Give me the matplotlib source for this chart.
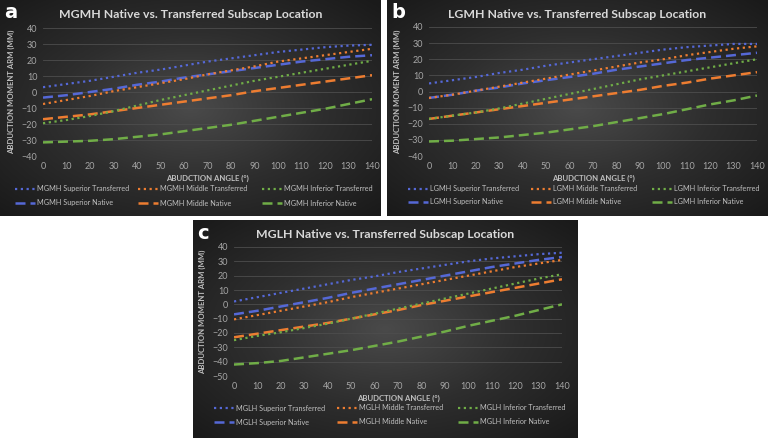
import numpy as np
import matplotlib
matplotlib.use("Agg")
from matplotlib import pyplot as plt

plt.rcParams['font.family'] = ['Lato', 'DejaVu Sans']

# Abduction moment arm vs abduction angle, three heads

angle = list(range(0, 150, 10))

# panel a: MGMH
a_sup_tr = [3, 5, 7, 9.5, 12, 14, 16.5, 19, 21, 23, 25, 26.5, 28, 29, 29.5]
a_mid_tr = [-7.5, -5, -2.5, 0.5, 3, 5.5, 8, 11, 13.5, 16, 19, 21, 23, 25, 27]
a_inf_tr = [-19.5, -17.5, -15, -12, -8.5, -5, -2, 1, 4, 7, 9.5, 12, 14.5, 17, 19.5]
a_sup_na = [-3.5, -2, 0, 2, 4.5, 6.5, 9, 11, 13, 15, 17, 19, 20.5, 22, 23]
a_mid_na = [-17, -15.5, -14, -12, -10, -8, -6, -4, -2, 0.5, 2.5, 4.5, 6.5, 8.5, 10.5]
a_inf_na = [-31.5, -31, -30.5, -29.5, -28, -26.5, -24.5, -22.5, -20.5, -18, -15.5, -13, -10.5, -7.5, -4.5]

# panel b: LGMH
b_sup_tr = [5, 7, 9, 11.5, 13.5, 16, 18, 20, 22, 24, 26, 27.5, 28.5, 29.5, 29.5]
b_mid_tr = [-4, -2, 0.5, 3, 5.5, 8, 10.5, 13, 15.5, 18, 20, 22.5, 24.5, 26.5, 28]
b_inf_tr = [-17, -15, -13, -10.5, -7.5, -4.5, -1.5, 1.5, 4.5, 7.5, 10, 12.5, 15, 17.5, 20]
b_sup_na = [-4, -2, 0.5, 2.5, 5, 7, 9, 11, 13.5, 15.5, 17.5, 19.5, 21, 22.5, 24]
b_mid_na = [-17, -15, -13, -11, -9, -7, -5, -3, -1, 1, 3.5, 5.5, 8, 10, 12]
b_inf_na = [-31, -30.5, -29.5, -28.5, -27, -25.5, -23.5, -21.5, -19, -16.5, -14, -11, -8, -5.5, -2.5]

# panel c: MGLH
c_sup_tr = [2, 5, 8, 11, 14, 17, 19.5, 22.5, 25, 27.5, 30, 32, 33.5, 35, 36]
c_mid_tr = [-10.5, -7.5, -4.5, -1.5, 1.5, 5, 8, 11, 14, 17, 20, 23, 26, 28.5, 31]
c_inf_tr = [-25, -22, -19.5, -16.5, -13.5, -10, -6.5, -3, 0.5, 4, 7.5, 11, 14.5, 18, 21]
c_sup_na = [-7, -4.5, -1.5, 1.5, 4.5, 8, 11, 14, 17, 20, 23, 26, 28.5, 31, 33]
c_mid_na = [-23, -20.5, -18, -15.5, -13, -10, -7, -4, -0.5, 2.5, 5.5, 8.5, 11.5, 14.5, 17.5]
c_inf_na = [-42, -41, -39.5, -37, -34.5, -32, -29, -26, -22.5, -19, -15, -11.5, -8, -4, 0]

blue = "#5568d6"
orange = "#ed7d31"
green = "#70ad47"

W, H = 768, 438
fig = plt.figure(figsize=(W / 100, H / 100), dpi=100)
fig.patch.set_facecolor("white")


def px(x0, y0, x1, y1):
    return [x0 / W, 1 - y1 / H, (x1 - x0) / W, (y1 - y0) / H]


# radial gradient for the dark panel backgrounds
gy, gx = np.mgrid[-1:1:200j, -1:1:300j]
grad = np.sqrt(gx ** 2 + gy ** 2)
grad = np.clip(grad / 1.4, 0, 1)
bgmap = matplotlib.colors.LinearSegmentedColormap.from_list(
    "g", ["#4a4a4a", "#2e2e2e", "#1a1a1a"])


def panel(box, pbox, letter, name, series, ylim, legx, legy):
    bg = fig.add_axes(px(*box))
    bg.imshow(grad, cmap=bgmap, aspect="auto", extent=[0, 1, 0, 1],
              vmin=0, vmax=1)
    bg.set_xlim(0, 1)
    bg.set_ylim(0, 1)
    bg.axis("off")
    bx0, by0, bx1, by1 = box
    fig.text((bx0 + 4) / W, 1 - (by0 + 13) / H, letter, color="white",
             fontsize=14, fontweight="bold", va="center", ha="left",
             family="DejaVu Sans")
    fig.text((bx0 + bx1) / 2 / W, 1 - (by0 + 14) / H,
             name + " Native vs. Transferred Subscap Location",
             color="#d9d9d9", fontsize=8.8, fontweight="bold",
             va="center", ha="center")

    ax = fig.add_axes(px(*pbox))
    ax.patch.set_alpha(0)
    styles = [
        ("Superior Transferred", series[0], blue, (0, (1, 1.6)), 1.6),
        ("Superior Native", series[3], blue, (0, (4, 2)), 1.8),
        ("Middle Transferred", series[1], orange, (0, (1, 1.6)), 1.6),
        ("Middle Native", series[4], orange, (0, (4, 2)), 1.8),
        ("Inferior Transferred", series[2], green, (0, (1, 1.6)), 1.6),
        ("Inferior Native", series[5], green, (0, (4, 2)), 1.8),
    ]
    lines = []
    for lab, vals, col, ls, lw in styles:
        ln, = ax.plot(angle, vals, color=col, linestyle=ls, linewidth=lw,
                      label=name + " " + lab)
        lines.append(ln)
    ax.set_xlim(0, 140)
    ax.set_ylim(*ylim)
    ax.set_xticks(range(0, 150, 10))
    ax.set_yticks(range(ylim[0], ylim[1] + 1, 10))
    ax.tick_params(colors="#a6a6a6", labelsize=6.5, length=0, pad=4)
    ax.grid(axis="y", color="#4d4d4d", linewidth=0.6)
    for s in ax.spines.values():
        s.set_visible(False)
    ax.set_xlabel("ABUDCTION ANGLE (°)", color="#bfbfbf", fontsize=5.6,
                  fontweight="bold", labelpad=3)
    ax.set_ylabel("ABDUCTION MOMENT ARM (MM)", color="#bfbfbf", fontsize=5.6,
                  fontweight="bold", labelpad=5)
    # legend entries laid out in a 3 x 2 grid
    for i, ln in enumerate(lines):
        col, row = i // 2, i % 2
        fig.legend(handles=[ln], loc="center left",
                   bbox_to_anchor=((bx0 + legx[col]) / W,
                                   1 - (by0 + legy[row]) / H),
                   frameon=False, fontsize=5.2, labelcolor="#bfbfbf",
                   handlelength=2.8, handletextpad=0.2, borderpad=0,
                   borderaxespad=0)


panel((0, 0, 381, 216), (43, 28, 372, 156), "a", "MGMH",
      [a_sup_tr, a_mid_tr, a_inf_tr, a_sup_na, a_mid_na, a_inf_na], (-40, 40),
      [15, 138, 262], [189, 203])
panel((387, 0, 768, 216), (429, 27, 757, 156), "b", "LGMH",
      [b_sup_tr, b_mid_tr, b_inf_tr, b_sup_na, b_mid_na, b_inf_na], (-40, 40),
      [21, 144, 265], [189, 202])
panel((193, 220, 578, 438), (234, 247, 562, 376), "c", "MGLH",
      [c_sup_tr, c_mid_tr, c_inf_tr, c_sup_na, c_mid_na, c_inf_na], (-50, 40),
      [21, 144, 265], [188, 202])

fig.savefig("out.png", dpi=100, facecolor="white")
